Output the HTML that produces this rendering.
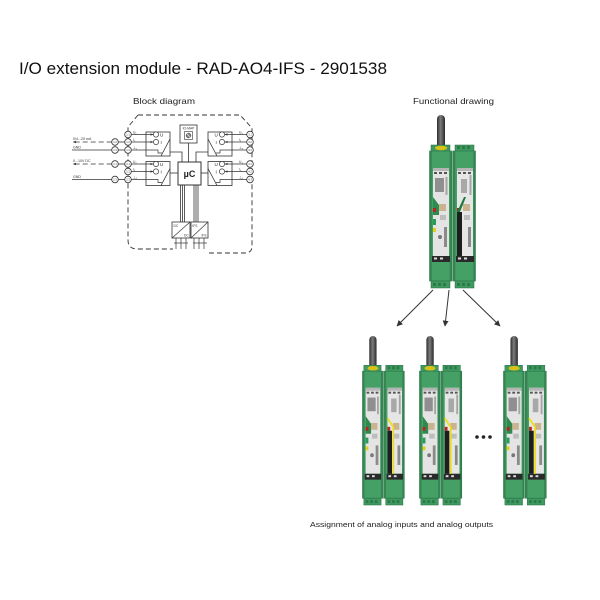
<!DOCTYPE html>
<html><head><meta charset="utf-8"><style>
html,body{margin:0;padding:0;background:#fff;}
svg{display:block;}
text{font-family:"Liberation Sans",Arial,sans-serif;}
</style></head><body>
<svg width="600" height="600" viewBox="0 0 600 600" xmlns="http://www.w3.org/2000/svg">
<defs>
<linearGradient id="ant" x1="0" x2="1" y1="0" y2="0"><stop offset="0" stop-color="#2e2e2e"/><stop offset="0.45" stop-color="#7c7c7c"/><stop offset="1" stop-color="#2a2a2a"/></linearGradient>
<marker id="ah" viewBox="0 0 10 10" refX="9" refY="5" markerWidth="6" markerHeight="6" orient="auto"><path d="M0,0 L10,5 L0,10 z" fill="#333"/></marker>
<marker id="sa" viewBox="0 0 10 10" refX="9" refY="5" markerWidth="4" markerHeight="4" orient="auto"><path d="M0,1 L10,5 L0,9 z" fill="#333"/></marker>
<g id="base">
 <rect x="2" y="30" width="19" height="7" fill="#3e9a60" stroke="#2a6a40" stroke-width="0.5"/>
 <rect x="26" y="30" width="19" height="7" fill="#3e9a60" stroke="#2a6a40" stroke-width="0.5"/>
 <rect x="28" y="31" width="3" height="3" fill="#2c7a48"/><rect x="33" y="31" width="3" height="3" fill="#2c7a48"/><rect x="38" y="31" width="3" height="3" fill="#2c7a48"/>
 <rect x="0.5" y="36" width="22.5" height="130" fill="#45a066" stroke="#2b7345" stroke-width="0.6"/>
 <rect x="24" y="36" width="22.5" height="130" fill="#45a066" stroke="#2b7345" stroke-width="0.6"/>
 <rect x="0.8" y="36" width="2" height="130" fill="#358553"/><rect x="20.8" y="36" width="2" height="130" fill="#358553"/>
 <rect x="24.3" y="36" width="2" height="130" fill="#358553"/><rect x="44.3" y="36" width="2" height="130" fill="#358553"/>
 <!-- left panel -->
 <rect x="4" y="53" width="16" height="88" fill="#e4e4e4"/>
 <rect x="4" y="53" width="16" height="3" fill="#b5b5b5"/>
 <rect x="5" y="57" width="3" height="2" fill="#555"/><rect x="10" y="57" width="3" height="2" fill="#555"/><rect x="15" y="57" width="3" height="2" fill="#555"/>
 <rect x="6" y="63" width="9" height="14" fill="#8f8f8f"/>
 <rect x="16.5" y="62" width="2" height="18" fill="#a5a5a5"/>
 <polygon points="4,82 10,90 10,100 4,100" fill="#2e8a4e"/>
 <rect x="10" y="89" width="7" height="7" fill="#c9b48f"/>
 <rect x="11" y="100" width="6" height="5" fill="#bdbdbd"/>
 <rect x="4" y="93" width="3" height="4" fill="#b22"/>
 <rect x="4" y="104" width="3" height="6" fill="#2a9a5a"/>
 <rect x="4" y="113" width="3" height="4" fill="#e2cf1c"/>
 <rect x="15" y="112" width="3" height="20" fill="#8a8a8a"/>
 <circle cx="11" cy="122" r="2" fill="#777"/>
 <rect x="3" y="141" width="18" height="6" fill="#2a2a2a"/>
 <rect x="5" y="142.5" width="3" height="2" fill="#ddd"/><rect x="11" y="142.5" width="3" height="2" fill="#ddd"/>
 <!-- right panel -->
 <rect x="28" y="53" width="16" height="88" fill="#e6e6e6"/>
 <rect x="28" y="53" width="16" height="3" fill="#b5b5b5"/>
 <rect x="29" y="57" width="3" height="2" fill="#555"/><rect x="34" y="57" width="3" height="2" fill="#555"/><rect x="39" y="57" width="3" height="2" fill="#555"/>
 <rect x="32" y="64" width="6" height="14" fill="#a8a8a8"/>
 <rect x="40.5" y="60" width="2" height="20" fill="#a5a5a5"/>
 <rect x="34" y="89" width="7" height="7" fill="#c9b48f"/>
 <rect x="35" y="100" width="6" height="5" fill="#bdbdbd"/>
 <rect x="28" y="93" width="3" height="4" fill="#b22"/>
 <rect x="28" y="97" width="5" height="44" fill="#1e1e1e"/>
 <rect x="39" y="112" width="3" height="20" fill="#8a8a8a"/>
 <rect x="27" y="141" width="18" height="6" fill="#2a2a2a"/>
 <rect x="29" y="142.5" width="3" height="2" fill="#ddd"/><rect x="35" y="142.5" width="3" height="2" fill="#ddd"/>
 <!-- bottom connectors -->
 <rect x="2" y="166" width="19" height="7" fill="#3e9a60" stroke="#2a6a40" stroke-width="0.5"/>
 <rect x="26" y="166" width="19" height="7" fill="#3e9a60" stroke="#2a6a40" stroke-width="0.5"/>
 <rect x="4" y="168" width="3" height="3" fill="#2c7a48"/><rect x="9" y="168" width="3" height="3" fill="#2c7a48"/><rect x="14" y="168" width="3" height="3" fill="#2c7a48"/>
 <rect x="28" y="168" width="3" height="3" fill="#2c7a48"/><rect x="33" y="168" width="3" height="3" fill="#2c7a48"/><rect x="38" y="168" width="3" height="3" fill="#2c7a48"/>
</g>
<g id="antenna">
 <rect x="8" y="0" width="8" height="34" rx="4" fill="url(#ant)"/>
</g>
<g id="pairTop">
 <use href="#antenna"/>
 <use href="#base"/>
 <ellipse cx="12" cy="33" rx="6" ry="2.3" fill="#d8c21a"/>
 <polygon points="28,97 35,82 37,82 31,97" fill="#1f7a40"/>
</g>
<g id="pairBot">
 <use href="#antenna"/>
 <use href="#base"/>
 <ellipse cx="12" cy="33" rx="6" ry="2.3" fill="#d8c21a"/>
 <line x1="28" y1="84" x2="35" y2="94" stroke="#f0dc10" stroke-width="1.8"/>
 <line x1="34.5" y1="94" x2="34.5" y2="141" stroke="#f0dc10" stroke-width="1.8"/>
</g>
<!-- left converter block shapes -->
<g id="blk">
 <rect x="146" y="132" width="24" height="24" fill="#fff" stroke="#333" stroke-width="0.8"/>
 <line x1="161" y1="156" x2="170" y2="139" stroke="#333" stroke-width="0.8"/>
 <circle cx="156" cy="134.5" r="2.6" fill="#fff" stroke="#333" stroke-width="0.7"/>
 <circle cx="156" cy="142" r="2.6" fill="#fff" stroke="#333" stroke-width="0.7"/>
 <line x1="131.3" y1="134.5" x2="153" y2="134.5" stroke="#333" stroke-width="0.7" marker-end="url(#sa)"/>
 <line x1="131.3" y1="142" x2="153" y2="142" stroke="#333" stroke-width="0.7" marker-end="url(#sa)"/>
 <polyline points="131.3,150 158,150 158,153 162,153" fill="none" stroke="#333" stroke-width="0.7"/>
</g>
</defs>

<!-- Title -->
<text x="19" y="74" font-size="17" fill="#111" textLength="368" lengthAdjust="spacingAndGlyphs">I/O extension module - RAD-AO4-IFS - 2901538</text>
<text x="133" y="104" font-size="8.5" fill="#222" textLength="62" lengthAdjust="spacingAndGlyphs">Block diagram</text>
<text x="413" y="104" font-size="8.5" fill="#222" textLength="81" lengthAdjust="spacingAndGlyphs">Functional drawing</text>
<text x="310" y="527" font-size="7.5" fill="#222" textLength="183" lengthAdjust="spacingAndGlyphs">Assignment of analog inputs and analog outputs</text>

<!-- Block diagram -->
<g fill="none" stroke="#333" stroke-width="0.9" stroke-dasharray="5,3">
 <path d="M138,115 H240 L252,128 V246 Q252,253 245,253 H207"/>
 <path d="M138,115 L128,127 V240 Q128,249 137,249 H173"/>
</g>
<use href="#blk"/>
<use href="#blk" transform="translate(0,29.5)"/>
<g transform="translate(378,0) scale(-1,1)">
 <use href="#blk"/>
 <use href="#blk" transform="translate(0,29.5)"/>
</g>
<!-- block texts -->
<g font-size="4.5" fill="#222">
 <text x="160" y="136.3">U</text><text x="160.5" y="143.8">I</text>
 <text x="160" y="165.8">U</text><text x="160.5" y="173.3">I</text>
 <text x="214.5" y="136.3">U</text><text x="215.5" y="143.8">I</text>
 <text x="214.5" y="165.8">U</text><text x="215.5" y="173.3">I</text>
</g>
<g font-size="3.3" fill="#333">
 <text x="133" y="133.3">U₁</text><text x="133" y="140.8">I₁</text><text x="133" y="148.8">⊥₁</text>
 <text x="133" y="162.8">U₂</text><text x="133" y="170.3">I₂</text><text x="133" y="178.3">⊥₂</text>
 <text x="239" y="133.3">U₃</text><text x="239" y="140.8">I₃</text><text x="239" y="148.8">⊥₃</text>
 <text x="239" y="162.8">U₄</text><text x="239" y="170.3">I₄</text><text x="239" y="178.3">⊥₄</text>
</g>
<!-- terminals -->
<g fill="#fff" stroke="#333" stroke-width="0.8">
 <circle cx="128" cy="134.5" r="3.3"/><circle cx="128" cy="142" r="3.3"/><circle cx="128" cy="150" r="3.3"/>
 <circle cx="128" cy="164" r="3.3"/><circle cx="128" cy="171.5" r="3.3"/><circle cx="128" cy="179.5" r="3.3"/>
 <circle cx="250" cy="134.5" r="3.3"/><circle cx="250" cy="142" r="3.3"/><circle cx="250" cy="150" r="3.3"/>
 <circle cx="250" cy="164" r="3.3"/><circle cx="250" cy="171.5" r="3.3"/><circle cx="250" cy="179.5" r="3.3"/>
 <circle cx="115" cy="142" r="3.3"/><circle cx="115" cy="150" r="3.3"/><circle cx="115" cy="164" r="3.3"/><circle cx="115" cy="179.5" r="3.3"/>
</g>
<g font-size="2.6" fill="#333" text-anchor="middle">
 <text x="128" y="135.4">1.1</text><text x="128" y="142.9">1.2</text><text x="128" y="150.9">1.3</text>
 <text x="128" y="164.9">2.1</text><text x="128" y="172.4">2.2</text><text x="128" y="180.4">2.3</text>
 <text x="250" y="135.4">3.1</text><text x="250" y="142.9">3.2</text><text x="250" y="150.9">3.3</text>
 <text x="250" y="164.9">4.1</text><text x="250" y="172.4">4.2</text><text x="250" y="180.4">4.3</text>
 <text x="115" y="142.9">1.2</text><text x="115" y="150.9">1.3</text><text x="115" y="164.9">2.1</text><text x="115" y="180.4">2.3</text>
</g>
<!-- external wiring -->
<g stroke="#333" stroke-width="0.8" fill="none">
 <line x1="118.3" y1="142" x2="124.7" y2="142"/><line x1="118.3" y1="150" x2="124.7" y2="150"/>
 <line x1="118.3" y1="164" x2="124.7" y2="164"/><line x1="118.3" y1="179.5" x2="124.7" y2="179.5"/>
 <line x1="111.7" y1="142" x2="73" y2="142" stroke-dasharray="5,3" marker-end="url(#sa)"/>
 <line x1="111.7" y1="164" x2="73" y2="164" stroke-dasharray="5,3" marker-end="url(#sa)"/>
 <line x1="111.7" y1="150" x2="72" y2="150"/>
 <line x1="111.7" y1="179.5" x2="72" y2="179.5"/>
</g>
<g font-size="3.6" fill="#333">
 <text x="73" y="140">0/4...20 mA</text>
 <text x="73" y="148.3">GND</text>
 <text x="73" y="162">0...10V DC</text>
 <text x="73" y="177.8">GND</text>
</g>
<!-- µC & IO-MAP -->
<g stroke="#333" stroke-width="0.8" fill="none">
 <line x1="188.5" y1="143" x2="188.5" y2="162"/>
 <polyline points="170,152 182,152 182,162"/>
 <polyline points="208,152 196,152 196,162"/>
 <line x1="170" y1="173" x2="178" y2="173"/>
 <line x1="201" y1="173" x2="208" y2="173"/>
 <line x1="180.5" y1="185" x2="180.5" y2="222"/><line x1="182.5" y1="185" x2="182.5" y2="222"/><line x1="184.5" y1="185" x2="184.5" y2="222"/>
 <line x1="194" y1="185" x2="194" y2="222"/><line x1="196" y1="185" x2="196" y2="222"/><line x1="198" y1="185" x2="198" y2="222"/>
</g>
<rect x="178" y="162" width="23" height="23" fill="#fff" stroke="#333" stroke-width="1"/>
<text x="189.5" y="177" font-size="9" font-weight="bold" fill="#222" text-anchor="middle">µC</text>
<rect x="180" y="125" width="17" height="18" fill="#fff" stroke="#333" stroke-width="0.8"/>
<text x="188.5" y="129.5" font-size="3.3" fill="#333" text-anchor="middle">IO-MAP</text>
<rect x="184.5" y="131.5" width="8" height="8" fill="#fff" stroke="#333" stroke-width="0.6"/>
<circle cx="188.5" cy="135.5" r="2.4" fill="#888" stroke="#333" stroke-width="0.5"/>
<line x1="187" y1="133.5" x2="190" y2="137.5" stroke="#fff" stroke-width="0.6"/>
<!-- DC / IFS -->
<rect x="172" y="222" width="18" height="16" fill="#fff" stroke="#333" stroke-width="0.8"/>
<line x1="172" y1="238" x2="190" y2="222" stroke="#333" stroke-width="0.7"/>
<rect x="191" y="222" width="17" height="16" fill="#fff" stroke="#333" stroke-width="0.8"/>
<line x1="191" y1="238" x2="208" y2="222" stroke="#333" stroke-width="0.7"/>
<g font-size="3.3" fill="#333">
 <text x="173.5" y="227">DC</text><text x="184" y="236.5">DC</text>
 <text x="192.3" y="227">IFS</text><text x="201.5" y="236.5">IFS</text>
</g>
<g stroke="#333" stroke-width="0.7" fill="none">
 <line x1="174" y1="243" x2="188" y2="243"/>
 <line x1="176" y1="238" x2="176" y2="249"/><line x1="181" y1="238" x2="181" y2="249"/><line x1="186" y1="238" x2="186" y2="249"/>
 <line x1="193" y1="243" x2="207" y2="243"/>
 <line x1="194" y1="238" x2="194" y2="249"/><line x1="199" y1="238" x2="199" y2="249"/><line x1="204" y1="238" x2="204" y2="249"/>
</g>

<!-- Functional drawing: top pair -->
<use href="#pairTop" transform="translate(429,115)"/>

<!-- arrows -->
<g stroke="#333" stroke-width="1" fill="none">
 <line x1="433" y1="290" x2="397" y2="326" marker-end="url(#ah)"/>
 <line x1="449" y1="290" x2="445" y2="326" marker-end="url(#ah)"/>
 <line x1="463" y1="290" x2="500" y2="326" marker-end="url(#ah)"/>
</g>

<!-- bottom pairs -->
<use href="#pairBot" transform="translate(362,336) scale(0.91,0.977)"/>
<use href="#pairBot" transform="translate(419,336) scale(0.92,0.977)"/>
<use href="#pairBot" transform="translate(503,336) scale(0.93,0.977)"/>

<!-- dots -->
<g fill="#222">
 <circle cx="477" cy="437" r="1.8"/><circle cx="483.5" cy="437" r="1.8"/><circle cx="490" cy="437" r="1.8"/>
</g>
</svg>
</body></html>
